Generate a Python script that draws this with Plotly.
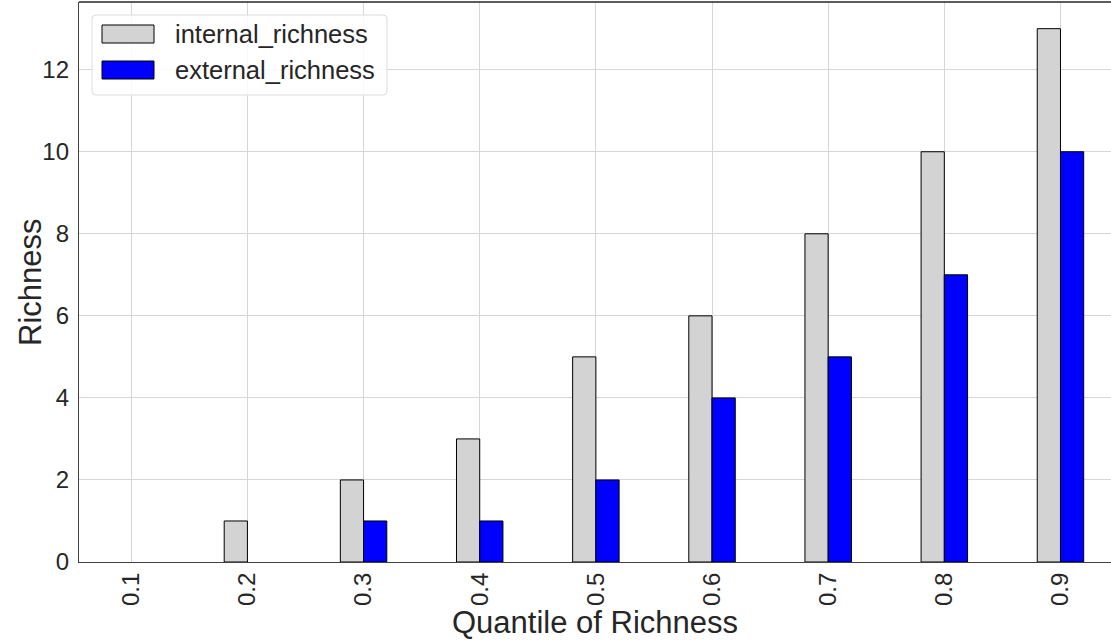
import plotly.graph_objects as go

categories = ["0.1", "0.2", "0.3", "0.4", "0.5", "0.6", "0.7", "0.8", "0.9"]
internal_richness = [0, 1, 2, 3, 5, 6, 8, 10, 13]
external_richness = [0, 0, 1, 1, 2, 4, 5, 7, 10]
series_names = ["internal_richness", "external_richness"]
series_colors = ["#d3d3d3", "#0000ff"]
y_ticks = [0, 2, 4, 6, 8, 10, 12]

W, H = 1111, 641
L, R, T, B = 79, 0, 2, 79
PW, PH = W - L - R, H - T - B
FONT = "Liberation Sans, Arial, sans-serif"
TXT = "#262626"

fig = go.Figure()
for name, vals, col in zip(series_names, [internal_richness, external_richness], series_colors):
    fig.add_trace(go.Bar(x=categories, y=vals, name=name, marker_color=col,
                         marker_line_color="black",
                         marker_line_width=[1 if v > 0 else 0 for v in vals],
                         showlegend=False))

def px(x):
    return (x - L) / PW

def py(y):
    return (H - B - y) / PH

# manual legend
lx0, lx1, ly0, ly1, r = 92, 387, 15, 95, 4
path = (f"M {px(lx0+r)} {py(ly0)} L {px(lx1-r)} {py(ly0)} Q {px(lx1)} {py(ly0)} {px(lx1)} {py(ly0+r)} "
        f"L {px(lx1)} {py(ly1-r)} Q {px(lx1)} {py(ly1)} {px(lx1-r)} {py(ly1)} "
        f"L {px(lx0+r)} {py(ly1)} Q {px(lx0)} {py(ly1)} {px(lx0)} {py(ly1-r)} "
        f"L {px(lx0)} {py(ly0+r)} Q {px(lx0)} {py(ly0)} {px(lx0+r)} {py(ly0)} Z")
shapes = [dict(type="path", xref="paper", yref="paper", path=path,
               fillcolor="rgba(255,255,255,0.85)", line=dict(color="#dcdcdc", width=1), layer="above")]
annotations = []
for i, (name, col) in enumerate(zip(series_names, series_colors)):
    y0 = 25 + i * 36
    shapes.append(dict(type="rect", xref="paper", yref="paper", x0=px(102), x1=px(154),
                       y0=py(y0), y1=py(y0 + 18), fillcolor=col,
                       line=dict(color="black", width=1), layer="above"))
    annotations.append(dict(xref="paper", yref="paper", x=px(173), y=py(y0 + 9), text=name,
                            showarrow=False, xanchor="left", yanchor="middle",
                            font=dict(family=FONT, size=25.5, color=TXT)))

# axis titles
annotations.append(dict(xref="paper", yref="paper", x=0.5, y=py(622), text="Quantile of Richness",
                        showarrow=False, xanchor="center", yanchor="middle",
                        font=dict(family=FONT, size=31, color=TXT)))
annotations.append(dict(xref="paper", yref="paper", x=px(30), y=0.5, text="Richness", textangle=-90,
                        showarrow=False, xanchor="center", yanchor="middle",
                        font=dict(family=FONT, size=31, color=TXT)))

# top spine
shapes.append(dict(type="line", xref="paper", yref="paper", x0=0, x1=1, y0=1, y1=1,
                   line=dict(color="#262626", width=1.3), layer="above"))

fig.update_layout(
    width=W, height=H,
    margin=dict(l=L, r=R, t=T, b=B, autoexpand=False),
    paper_bgcolor="white", plot_bgcolor="white",
    barmode="group", bargap=0.6, bargroupgap=0,
    font=dict(family=FONT, color=TXT),
    shapes=shapes, annotations=annotations,
    xaxis=dict(
        range=[-0.45, 8.435], type="category", tickangle=-90, automargin=False,
        tickfont=dict(size=24, family=FONT, color=TXT),
        showgrid=True, gridcolor="#d6d6d6", gridwidth=1,
        showline=True, linecolor="#404040", linewidth=1.3, layer="above traces",
        ticks="", ticklen=0,
    ),
    yaxis=dict(
        range=[0, 13.65], tickvals=y_ticks, automargin=False,
        tickfont=dict(size=24, family=FONT, color=TXT),
        showgrid=True, gridcolor="#d6d6d6", gridwidth=1,
        showline=True, linecolor="#404040", linewidth=1.3,
        ticks="", zeroline=False, ticklabelstandoff=4,
    ),
)

fig.write_html("out.html", config={"displayModeBar": False},
               post_script="document.body.style.margin='0';document.body.style.padding='0';")
